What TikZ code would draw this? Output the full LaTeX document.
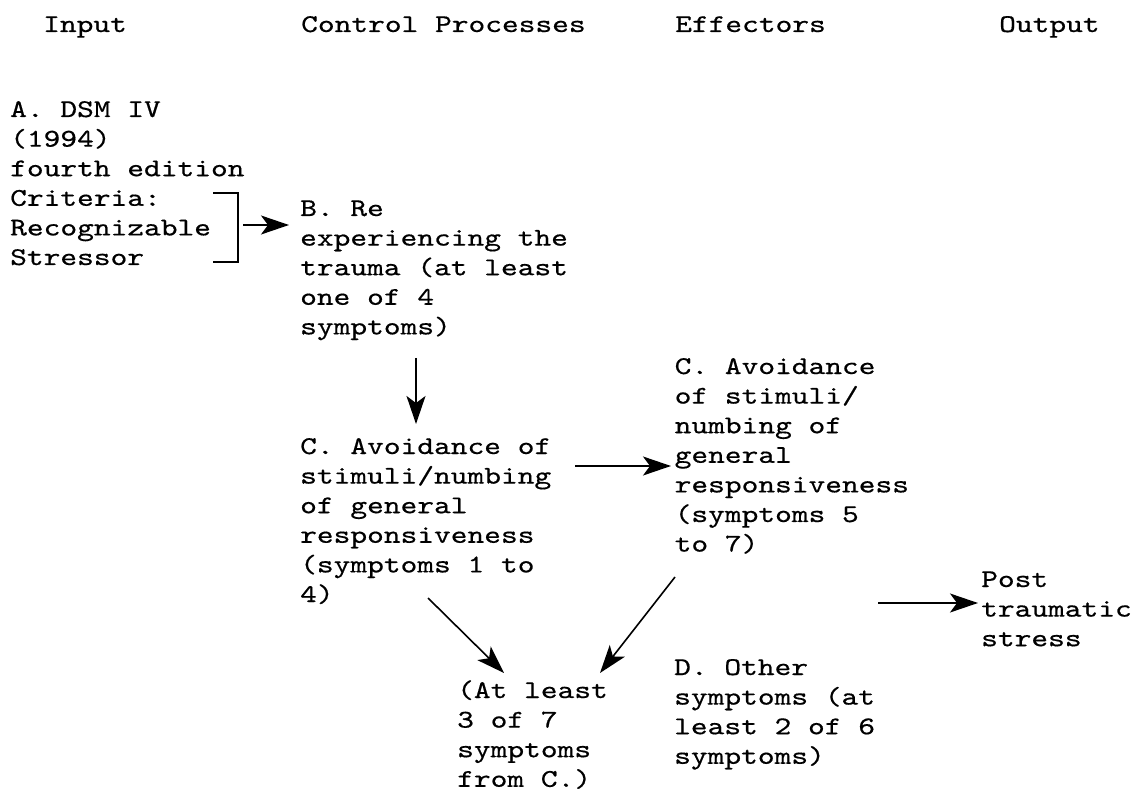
\documentclass[tikz,border=0pt]{standalone}
\usepackage{fontspec}
\newfontfamily\twfont[FakeStretch=1.25,FakeBold=0.5]{lmmono10-regular.otf}
\usetikzlibrary{arrows.meta}
\newcommand{\tblock}[1]{\begin{tabular}[t]{@{}l@{}}#1\end{tabular}}
\begin{document}
\begin{tikzpicture}[x=1pt,y=-1pt,
  txt/.style={inner sep=0pt, anchor=base west, font=\twfont\fontsize{25.5}{29.6}\selectfont},
  conn/.style={line width=1.6pt},
  arr/.style={conn, -{Stealth[length=28pt,width=19pt,inset=7pt]}}]
\fill[white] (0,0) rectangle (1141,794);
\useasboundingbox (0,0) rectangle (1141,794);
% headers
\node[txt] (hIn)  at (43,32)  {Input};
\node[txt] (hCP)  at (301,32) {Control Processes};
\node[txt] (hEf)  at (675,32) {Effectors};
\node[txt] (hOut) at (999,32) {Output};
% blocks
\node[txt] (A) at (10,117) {\tblock{A. DSM IV\\(1994)\\fourth edition\\Criteria:\\Recognizable\\Stressor}};
\node[txt] (B) at (300,216) {\tblock{B. Re\\experiencing the\\trauma (at least\\one of 4\\symptoms)}};
\node[txt] (C1) at (300,454) {\tblock{C. Avoidance of\\stimuli/numbing\\of general\\responsiveness\\(symptoms 1 to\\4)}};
\node[txt] (C2) at (674.5,374) {\tblock{C. Avoidance\\of stimuli/\\numbing of\\general\\responsiveness\\(symptoms 5\\to 7)}};
\node[txt] (AL) at (457,698) {\tblock{(At least\\3 of 7\\symptoms\\from C.)}};
\node[txt] (D) at (674,675) {\tblock{D. Other\\symptoms (at\\least 2 of 6\\symptoms)}};
\node[txt] (Post) at (981,587) {\tblock{Post\\traumatic\\stress}};
% bracket grouping the criteria
\coordinate (brT) at (213,193);
\coordinate (brB) at (213,262);
\coordinate (brX) at (238,193);
\draw[conn] (brT) -- (brX) -- (brX |- brB) -- (brB);
% connector end points
\coordinate (aS) at (243,225);  \coordinate (bIn) at (289,225);
\coordinate (bOut) at (416,358); \coordinate (c1In) at (416,424);
\coordinate (c1R) at (575,466);  \coordinate (c2In) at (671,466);
\coordinate (c1B) at (428,598);  \coordinate (alL) at (504,673);
\coordinate (c2B) at (675,577);  \coordinate (alR) at (600,673);
\coordinate (pS) at (878,603);   \coordinate (pIn) at (978,603);
\draw[arr] (aS) -- (bIn);
\draw[arr] (bOut) -- (c1In);
\draw[arr] (c1R) -- (c2In);
\draw[arr] (c1B) -- (alL);
\draw[arr] (c2B) -- (alR);
\draw[arr] (pS) -- (pIn);
\end{tikzpicture}
\end{document}
